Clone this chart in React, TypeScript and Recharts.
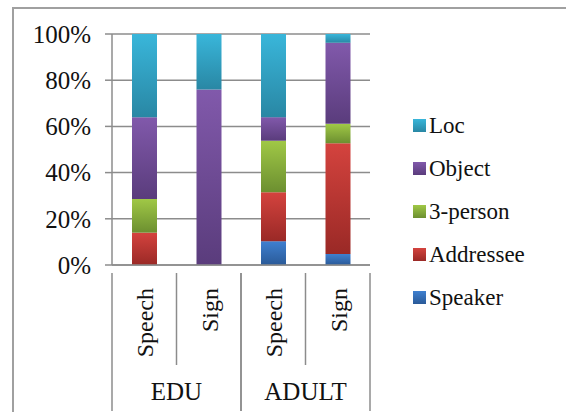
import { Bar, BarChart, CartesianGrid, XAxis, YAxis } from 'recharts';

const categories = ['Speech', 'Sign', 'Speech', 'Sign'];
const groups = ['EDU', 'EDU', 'ADULT', 'ADULT'];

const speaker = [0, 0, 10.3, 4.8];
const addressee = [14, 0, 21.2, 47.9];
const threePerson = [14.6, 0, 22.3, 8.4];
const objectShare = [35.4, 76, 10.2, 35.1];
const loc = [36, 24, 36, 3.8];

const yTicks = [0, 20, 40, 60, 80, 100];

const FONT = "'Times New Roman', Times, 'Liberation Serif', 'DejaVu Serif', 'Noto Serif', serif";
const LINE = '#8c8c8c';

// stacking order bottom -> top
const series = [
  { key: 'speaker', name: 'Speaker', values: speaker, top: '#3f80d0', bottom: '#2a5a98' },
  { key: 'addressee', name: 'Addressee', values: addressee, top: '#d4433e', bottom: '#9a2926' },
  { key: 'threePerson', name: '3-person', values: threePerson, top: '#a0c846', bottom: '#6c8f30' },
  { key: 'object', name: 'Object', values: objectShare, top: '#8159ab', bottom: '#5a3c7c' },
  { key: 'loc', name: 'Loc', values: loc, top: '#39b6da', bottom: '#2987a4' },
];

const chartData = categories.map((name, i) => {
  const row: Record<string, string | number> = { id: `${groups[i]}-${name}-${i}`, name, group: groups[i] };
  series.forEach((s) => {
    row[s.key] = s.values[i];
  });
  return row;
});

function CategoryTick(props: any) {
  const { x, y, payload, index } = props;
  const i = typeof index === 'number' ? index : payload.index;
  const half = payload.offset || 32.25;
  const label = categories[i];
  const isGroupEnd = i === categories.length - 1 || groups[i + 1] !== groups[i];
  const isGroupStart = i === 0 || groups[i - 1] !== groups[i];
  return (
    <g>
      <text
        x={x + 9}
        y={y + 15}
        transform={`rotate(-90, ${x + 9}, ${y + 15})`}
        textAnchor="end"
        style={{ fontFamily: FONT }}
        fontSize={24}
        fill="#111"
      >
        {label}
      </text>
      {isGroupStart && (
        <line x1={x - half} x2={x - half} y1={y} y2={y + 138} stroke={LINE} strokeWidth={1.5} />
      )}
      <line
        x1={x + half}
        x2={x + half}
        y1={y}
        y2={isGroupEnd ? y + 138 : y + 92}
        stroke={LINE}
        strokeWidth={1.5}
      />
      {isGroupEnd && (
        <text
          x={x - half}
          y={y + 127}
          textAnchor="middle"
          style={{ fontFamily: FONT }}
          fontSize={25}
          fill="#111"
        >
          {groups[i]}
        </text>
      )}
    </g>
  );
}

function LegendList() {
  return (
    <div style={{ position: 'absolute', left: 413, top: 104, fontFamily: FONT, fontSize: 23, color: '#111' }}>
      {[...series].reverse().map((s) => (
        <div key={s.key} style={{ display: 'flex', alignItems: 'center', height: 43 }}>
          <span
            style={{
              display: 'inline-block',
              width: 13,
              height: 13,
              background: `linear-gradient(${s.top}, ${s.bottom})`,
              marginRight: 3,
            }}
          />
          <span>{s.name}</span>
        </div>
      ))}
    </div>
  );
}

export default function App() {
  return (
    <div style={{ position: 'absolute', left: 0, top: 0, width: 566, height: 412, background: '#fff', overflow: 'hidden' }}>
      <div
        style={{
          position: 'absolute',
          left: 12,
          top: 7,
          width: 600,
          height: 450,
          borderTop: `2px solid #a0a0a0`,
          borderLeft: `2px solid #a0a0a0`,
        }}
      />
      <BarChart
        width={566}
        height={412}
        data={chartData}
        margin={{ top: 34, right: 196, left: 0, bottom: 0 }}
        barSize={25}
        style={{ position: 'absolute', left: 0, top: 0 }}
      >
        <defs>
          {series.map((s) => (
            <linearGradient key={s.key} id={`grad-${s.key}`} x1="0" y1="0" x2="0" y2="1">
              <stop offset="0%" stopColor={s.top} />
              <stop offset="100%" stopColor={s.bottom} />
            </linearGradient>
          ))}
        </defs>
        <CartesianGrid vertical={false} stroke={LINE} strokeWidth={1.5} />
        <XAxis
          dataKey="id"
          height={147}
          interval={0}
          tickLine={false}
          axisLine={{ stroke: LINE, strokeWidth: 1.5 }}
          tick={<CategoryTick />}
        />
        <YAxis
          width={112}
          domain={[0, 100]}
          ticks={yTicks}
          allowDataOverflow
          tickSize={7}
          tickMargin={14}
          tickLine={{ stroke: LINE, strokeWidth: 1.5 }}
          axisLine={{ stroke: LINE, strokeWidth: 1.5 }}
          tickFormatter={(v) => `${v}%`}
          tick={{ fontSize: 25, fill: '#111', style: { fontFamily: FONT } }}
        />
        {series.map((s) => (
          <Bar
            key={s.key}
            dataKey={s.key}
            name={s.name}
            stackId="share"
            fill={`url(#grad-${s.key})`}
            isAnimationActive={false}
          />
        ))}
      </BarChart>
      <LegendList />
    </div>
  );
}
